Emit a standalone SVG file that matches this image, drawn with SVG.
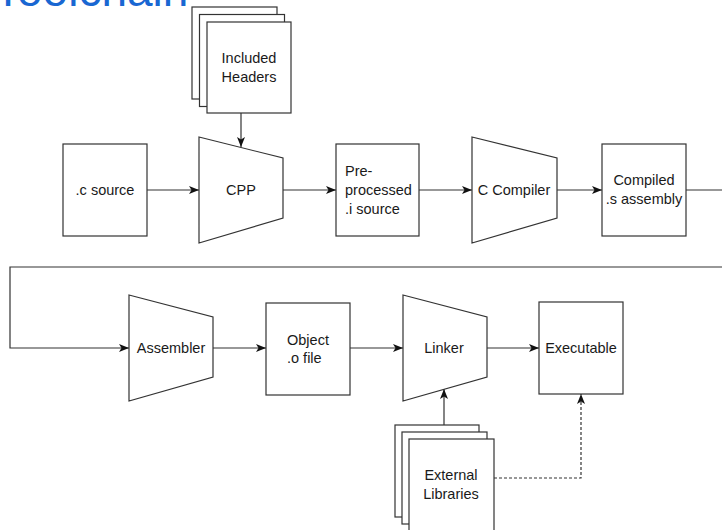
<svg xmlns="http://www.w3.org/2000/svg" width="722" height="530" viewBox="0 0 722 530">
<defs>
<style>
.box{fill:#fff;stroke:#333;stroke-width:1.2}
.lbl{font-family:"Liberation Sans",Arial,sans-serif;font-size:14.5px;fill:#1a1a1a}
.mid{text-anchor:middle}
.conn{fill:none;stroke:#333;stroke-width:1.2}
.dash{stroke-dasharray:3 2}
.title{font-family:"Liberation Sans",Arial,sans-serif;font-size:46px;fill:#1967d2}
</style>
<marker id="arr" markerUnits="userSpaceOnUse" markerWidth="11" markerHeight="9" refX="10" refY="4" orient="auto">
<path d="M0,0 L10,4 L0,8 L2.5,4 Z" fill="#111"/>
</marker>
</defs>
<rect width="722" height="530" fill="#fff"/>
<text class="title" x="-6" y="6">Toolchain</text>

<g id="connectors">
<path class="conn" d="M241,113 V147" marker-end="url(#arr)"/>
<path class="conn" d="M147,190 H199" marker-end="url(#arr)"/>
<path class="conn" d="M283,190 H336" marker-end="url(#arr)"/>
<path class="conn" d="M419,190 H472" marker-end="url(#arr)"/>
<path class="conn" d="M557,190 H602" marker-end="url(#arr)"/>
<path class="conn" d="M686,190 H740 V267 H10 V348 H129" marker-end="url(#arr)"/>
<path class="conn" d="M213,348 H266" marker-end="url(#arr)"/>
<path class="conn" d="M350,348 H403" marker-end="url(#arr)"/>
<path class="conn" d="M487,348 H539" marker-end="url(#arr)"/>
<path class="conn" d="M444,425 V389" marker-end="url(#arr)"/>
<path class="conn dash" d="M494,478 H581 V394" marker-end="url(#arr)"/>
</g>

<g id="headers">
<rect class="box" x="192" y="7" width="85" height="92"/>
<rect class="box" x="199.5" y="14.5" width="85" height="92"/>
<rect class="box" x="207" y="22" width="84" height="91"/>
<text class="lbl mid" x="249" y="63">Included</text>
<text class="lbl mid" x="249" y="82">Headers</text>
</g>

<g id="csource">
<rect class="box" x="63" y="144" width="84" height="92"/>
<text class="lbl mid" x="105" y="195">.c source</text>
</g>

<g id="cpp">
<polygon class="box" points="199,137 283,158 283,218 199,243"/>
<text class="lbl mid" x="241" y="195">CPP</text>
</g>

<g id="preprocessed">
<rect class="box" x="336" y="144" width="83" height="92"/>
<text class="lbl" x="345" y="176">Pre-</text>
<text class="lbl" x="345" y="195">processed</text>
<text class="lbl" x="345" y="214">.i source</text>
</g>

<g id="ccompiler">
<polygon class="box" points="472,137 557,158 557,218 472,243"/>
<text class="lbl mid" x="514" y="195">C Compiler</text>
</g>

<g id="compiled">
<rect class="box" x="602" y="144" width="84" height="92"/>
<text class="lbl mid" x="644" y="185">Compiled</text>
<text class="lbl mid" x="644" y="204">.s assembly</text>
</g>

<g id="assembler">
<polygon class="box" points="129,295 213,317 213,377 129,401"/>
<text class="lbl mid" x="171" y="353">Assembler</text>
</g>

<g id="object">
<rect class="box" x="266" y="303" width="84" height="92"/>
<text class="lbl" x="287" y="345">Object</text>
<text class="lbl" x="287" y="363">.o file</text>
</g>

<g id="linker">
<polygon class="box" points="403,295 487,317 487,377 403,401"/>
<text class="lbl mid" x="444" y="353">Linker</text>
</g>

<g id="executable">
<rect class="box" x="539" y="302" width="84" height="92"/>
<text class="lbl mid" x="581" y="353">Executable</text>
</g>

<g id="libraries">
<rect class="box" x="395" y="425" width="84" height="92"/>
<rect class="box" x="402" y="432" width="85" height="92"/>
<rect class="box" x="409" y="439" width="85" height="92"/>
<text class="lbl mid" x="451" y="480">External</text>
<text class="lbl mid" x="451" y="499">Libraries</text>
</g>
</svg>
